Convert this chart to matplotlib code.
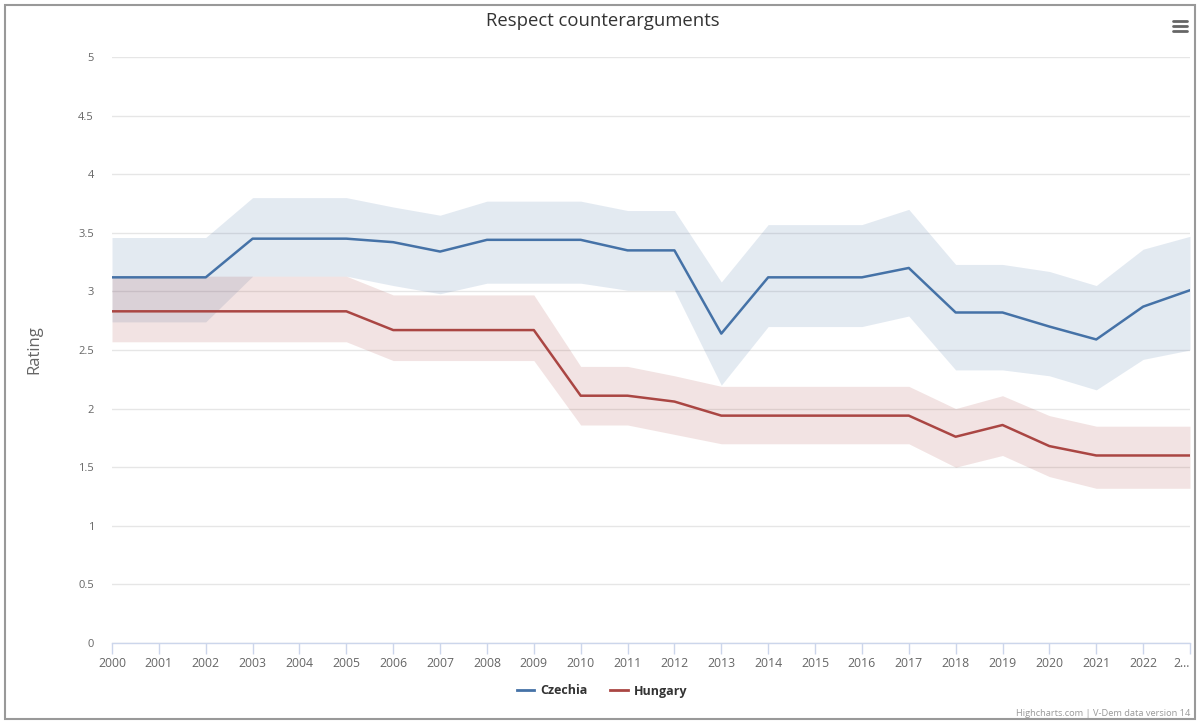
import matplotlib
matplotlib.use('Agg')
import matplotlib.pyplot as plt
from matplotlib.patches import Rectangle
from matplotlib.lines import Line2D

plt.rcParams['font.family'] = ['Open Sans', 'DejaVu Sans']

years = list(range(2000, 2024))
year_labels = [str(y) for y in years[:-1]] + ['2...']
y_ticks = [0, 0.5, 1, 1.5, 2, 2.5, 3, 3.5, 4, 4.5, 5]
y_tick_labels = ['0', '0.5', '1', '1.5', '2', '2.5', '3', '3.5', '4', '4.5', '5']

# Czechia: estimate and interval
cz_mid = [3.12, 3.12, 3.12, 3.45, 3.45, 3.45, 3.42, 3.34, 3.44, 3.44, 3.44, 3.35,
          3.35, 2.64, 3.12, 3.12, 3.12, 3.20, 2.82, 2.82, 2.70, 2.59, 2.87, 3.01]
cz_high = [3.46, 3.46, 3.46, 3.80, 3.80, 3.80, 3.72, 3.65, 3.77, 3.77, 3.77, 3.69,
           3.69, 3.08, 3.57, 3.57, 3.57, 3.70, 3.23, 3.23, 3.17, 3.05, 3.36, 3.47]
cz_low = [2.74, 2.74, 2.74, 3.13, 3.13, 3.13, 3.05, 2.98, 3.07, 3.07, 3.07, 3.01,
          3.01, 2.20, 2.70, 2.70, 2.70, 2.79, 2.33, 2.33, 2.28, 2.16, 2.42, 2.50]

# Hungary: estimate and interval
hu_mid = [2.83, 2.83, 2.83, 2.83, 2.83, 2.83, 2.67, 2.67, 2.67, 2.67, 2.11, 2.11,
          2.06, 1.94, 1.94, 1.94, 1.94, 1.94, 1.76, 1.86, 1.68, 1.60, 1.60, 1.60]
hu_high = [3.13, 3.13, 3.13, 3.13, 3.13, 3.13, 2.97, 2.97, 2.97, 2.97, 2.36, 2.36,
           2.28, 2.19, 2.19, 2.19, 2.19, 2.19, 2.00, 2.11, 1.94, 1.85, 1.85, 1.85]
hu_low = [2.57, 2.57, 2.57, 2.57, 2.57, 2.57, 2.41, 2.41, 2.41, 2.41, 1.86, 1.86,
          1.78, 1.70, 1.70, 1.70, 1.70, 1.70, 1.50, 1.60, 1.42, 1.32, 1.32, 1.32]

blue = '#4572a7'
red = '#aa4643'

fig = plt.figure(figsize=(11.97, 7.22), dpi=100)
ax = fig.add_axes([112 / 1197, 1 - 643 / 722, (1190 - 112) / 1197, (643 - 57) / 722])

ax.fill_between(years, cz_low, cz_high, color=blue, alpha=0.15, lw=0, zorder=2)
ax.fill_between(years, hu_low, hu_high, color=red, alpha=0.15, lw=0, zorder=2)
ax.plot(years, cz_mid, color=blue, lw=1.8, zorder=3)
ax.plot(years, hu_mid, color=red, lw=1.8, zorder=3)

ax.set_xlim(2000, 2023)
ax.set_ylim(0, 5)
ax.set_yticks(y_ticks)
ax.set_yticklabels(y_tick_labels)
ax.set_xticks(years)
ax.set_xticklabels(year_labels)
ax.get_xticklabels()[-1].set_horizontalalignment('right')

ax.grid(axis='y', color='#e6e6e6', lw=1, zorder=0)
for s in ['top', 'right', 'left']:
    ax.spines[s].set_visible(False)
ax.spines['bottom'].set_color('#ccd6eb')
ax.spines['bottom'].set_linewidth(1)
ax.tick_params(axis='x', colors='#ccd6eb', length=8, width=1, labelcolor='#666666',
               labelsize=8.8, pad=2)
ax.tick_params(axis='y', length=0, labelcolor='#666666', labelsize=8, pad=13)
ax.set_ylabel('Rating', color='#666666', fontsize=12, labelpad=26)

fig.text(603 / 1197, 1 - 21 / 722, 'Respect counterarguments', ha='center', va='center',
         fontsize=13.3, color='#333333', fontweight='medium')

# legend
handles = [Line2D([], [], color=blue, lw=2), Line2D([], [], color=red, lw=2)]
leg = fig.legend(handles, ['Czechia', 'Hungary'], loc='center', ncol=2,
                 bbox_to_anchor=(602 / 1197, 1 - 691 / 722), frameon=False,
                 prop={'weight': 'bold', 'size': 9}, handlelength=1.4,
                 handletextpad=0.5, columnspacing=1.8)
for t in leg.get_texts():
    t.set_color('#333333')

fig.text(1190 / 1197, 1 - 713 / 722, 'Highcharts.com | V-Dem data version 14', ha='right',
         va='center', fontsize=6.7, color='#999999')

# menu icon
for yy in [21, 26, 31]:
    fig.add_artist(Line2D([1173 / 1197, 1187 / 1197], [1 - yy / 722, 1 - yy / 722],
                          color='#666666', lw=2, solid_capstyle='round'))

# outer border
fig.add_artist(Rectangle((5 / 1197, 3 / 722), 1190 / 1197, 714 / 722, fill=False,
                         edgecolor='#999999', lw=1.5, transform=fig.transFigure))

fig.savefig('out.png', dpi=100)
